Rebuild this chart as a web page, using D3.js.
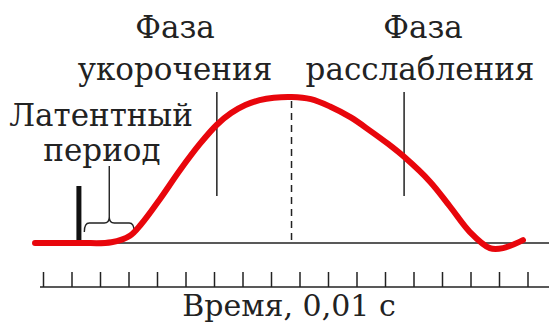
<!DOCTYPE html>
<html lang="ru">
<head>
<meta charset="UTF-8">
<title>Фазы сокращения мышцы</title>
<script src="https://d3js.org/d3.v7.min.js"></script>
<style>
  body { margin: 0; background: #fff; }
  text { font-family: "DejaVu Serif", serif; fill: #222; }
</style>
</head>
<body>
<div id="chart"></div>
<script>
// time in units of 0.01 s, tension relative to peak
const timeTicks = [0, 1, 2, 3, 4, 5, 6, 7, 8, 9, 10, 11, 12, 13, 14, 15, 16, 17];
const curveTime = [-0.28, 1.3, 2.4, 3.05, 3.45, 4.1, 4.81, 5.51, 6.1, 6.6, 7.1, 7.6, 8.1, 8.72, 9.4, 10.07, 10.8, 11.47, 12.1, 12.7, 13.58, 14.28, 14.98, 15.68, 16.14, 16.84];
const curveForce = [0, 0, 0.005, 0.05, 0.13, 0.3, 0.5, 0.68, 0.81, 0.89, 0.945, 0.978, 0.995, 1, 0.985, 0.935, 0.86, 0.77, 0.68, 0.585, 0.42, 0.25, 0.075, -0.035, -0.035, 0.02];
const stimulusTime = 1.26;
const latentStart = 1.45, latentEnd = 3.2;
const shorteningBorder = 6.1, peakTime = 8.72, relaxBorder = 12.67;
const labels = [
  {text: "Фаза", x: 175, y: 38},
  {text: "укорочения", x: 175, y: 80},
  {text: "Фаза", x: 423, y: 38},
  {text: "расслабления", x: 420, y: 80},
  {text: "Латентный", x: 101, y: 126},
  {text: "период", x: 102, y: 161}
];
const axisTitle = "Время, 0,01 с";

const W = 549, H = 331;
const svg = d3.select("#chart").append("svg")
    .attr("width", W).attr("height", H);

const x = d3.scaleLinear().domain([0, 17]).range([43, 527.5]);
const y = d3.scaleLinear().domain([0, 1]).range([243, 97]);

// baseline under the curve
svg.append("line")
    .attr("x1", x(-0.3)).attr("x2", W)
    .attr("y1", y(0)).attr("y2", y(0))
    .attr("stroke", "#222").attr("stroke-width", 1.5);

// phase borders
[shorteningBorder, relaxBorder].forEach(t => {
  svg.append("line")
      .attr("x1", x(t)).attr("x2", x(t))
      .attr("y1", 92).attr("y2", 196)
      .attr("stroke", "#222").attr("stroke-width", 1.5);
});

// peak marker
svg.append("line")
    .attr("x1", x(peakTime)).attr("x2", x(peakTime))
    .attr("y1", y(1) + 4).attr("y2", y(0))
    .attr("stroke", "#222").attr("stroke-width", 1.5)
    .attr("stroke-dasharray", "7,5");

// stimulus mark
svg.append("rect")
    .attr("x", x(stimulusTime) - 2.5).attr("y", 186)
    .attr("width", 5).attr("height", y(0) - 186)
    .attr("fill", "#111");

// brace for latent period
const bx0 = x(latentStart), bx1 = x(latentEnd), bm = (bx0 + bx1) / 2;
const by = 223, r = 5;
svg.append("path")
    .attr("d", `M${bx0},${by + 9} Q${bx0},${by} ${bx0 + r},${by} L${bm - r},${by} Q${bm},${by} ${bm},${by - 6} L${bm},166 M${bm},${by - 6} Q${bm},${by} ${bm + r},${by} L${bx1 - r},${by} Q${bx1},${by} ${bx1},${by + 9}`)
    .attr("fill", "none").attr("stroke", "#222").attr("stroke-width", 1.4);

// the contraction curve
const line = d3.line()
    .x((d, i) => x(curveTime[i]))
    .y(d => y(d))
    .curve(d3.curveCatmullRom.alpha(0.5));
svg.append("path")
    .datum(curveForce)
    .attr("d", line)
    .attr("fill", "none")
    .attr("stroke", "#e8060c")
    .attr("stroke-width", 6)
    .attr("stroke-linecap", "round");

// time axis
const axis = svg.append("g")
    .attr("transform", "translate(0,287)")
    .call(d3.axisTop(x).tickValues(timeTicks).tickSize(15).tickSizeOuter(0).tickFormat(""));
axis.select(".domain").remove();
axis.selectAll(".tick line").attr("stroke", "#222").attr("stroke-width", 1.5);
axis.append("line")
    .attr("x1", 40).attr("x2", W)
    .attr("stroke", "#222").attr("stroke-width", 1.5);

svg.append("text")
    .attr("x", 289).attr("y", 316)
    .attr("text-anchor", "middle")
    .style("font-size", "30px")
    .text(axisTitle);

svg.selectAll(".label")
  .data(labels)
  .join("text")
    .attr("class", "label")
    .attr("x", d => d.x).attr("y", d => d.y)
    .attr("text-anchor", "middle")
    .style("font-size", "31px")
    .text(d => d.text);
</script>
</body>
</html>
